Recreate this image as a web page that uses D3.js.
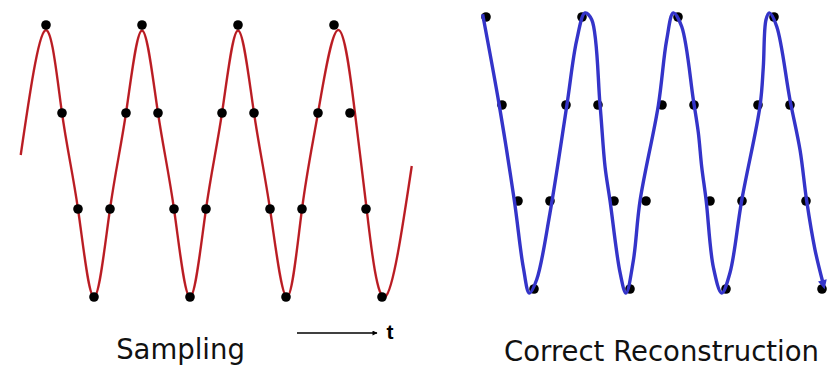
<!DOCTYPE html>
<html>
<head>
<meta charset="utf-8">
<script src="https://cdn.jsdelivr.net/npm/d3@7"></script>
<style>
  body { margin: 0; background: #fff; }
  svg { display: block; }
</style>
</head>
<body>
<svg width="835" height="382"></svg>
<script>
/* Sampling vs. correct reconstruction */

// sample index (one dot every sample)
const sampleIndex = d3.range(22);
const sampleValues = [1, 0.353, -0.353, -1, -0.353, 0.353,
                      1, 0.353, -0.353, -1, -0.353, 0.353,
                      1, 0.353, -0.353, -1, -0.353, 0.353,
                      1, 0.353, -0.353, -1];

// original signal (red), traced points [t, value]
const signalT = [-1.58, -0.06, 1, 2, 3, 4, 5, 6, 7, 8, 9, 10, 11, 12, 13, 14, 15.06, 16, 17, 18.27, 19.31, 20.04, 21.19, 22.86];
const signalV = [0.044, 0.96, 0.353, -0.353, -1.0, -0.353, 0.353, 0.96, 0.353, -0.353, -1.0, -0.353, 0.353, 0.96, 0.353, -0.353, -1.0, -0.353, 0.353, 0.963, 0.353, -0.353, -1.0, -0.037];

// reconstruction (blue), traced points [t, value]
const reconT = [-0.21, 0.83, 1.77, 2.33, 2.71, 3.17, 4.0, 5.04, 5.67, 6.19, 6.61, 7.13, 7.44, 7.75, 8.38, 8.75, 9.21, 9.63, 10.77, 11.29, 11.71, 12.23, 12.96, 13.27, 13.48, 13.76, 14.21, 14.73, 15.25, 15.98, 17.13, 17.33, 17.5, 17.71, 18.17, 19.0, 19.63, 20.04, 20.56, 21.05];
const reconV = [1.02, 0.35, -0.35, -0.84, -1.03, -0.93, -0.44, 0.34, 0.83, 1.03, 0.98, 0.35, -0.10, -0.35, -0.88, -1.03, -0.79, -0.35, 0.35, 0.83, 1.03, 0.93, 0.39, 0.15, -0.10, -0.35, -0.84, -1.03, -0.88, -0.35, 0.35, 0.63, 0.98, 1.03, 0.93, 0.39, 0.02, -0.35, -0.71, -0.95];

const titles = ['Sampling', 'Correct Reconstruction'];

const svg = d3.select('svg');

const defs = svg.append('defs');
defs.append('marker')
    .attr('id', 'blueHead')
    .attr('viewBox', '0 0 10 10')
    .attr('refX', 2).attr('refY', 5)
    .attr('markerWidth', 10).attr('markerHeight', 9)
    .attr('markerUnits', 'userSpaceOnUse')
    .attr('orient', 'auto')
  .append('path')
    .attr('d', 'M0,0 L10,5 L0,10 z')
    .attr('fill', '#3434c9');
defs.append('marker')
    .attr('id', 'blackHead')
    .attr('viewBox', '0 0 10 10')
    .attr('refX', 9).attr('refY', 5)
    .attr('markerWidth', 7).attr('markerHeight', 5)
    .attr('markerUnits', 'userSpaceOnUse')
    .attr('orient', 'auto')
  .append('path')
    .attr('d', 'M0,0 L10,5 L0,10 z')
    .attr('fill', '#000');

/* left panel */
const xL = d3.scaleLinear().domain([0, 21]).range([46, 382]);
const yL = d3.scaleLinear().domain([-1, 1]).range([297, 25]);

const signalLine = d3.line().x(d => xL(d[0])).y(d => yL(d[1])).curve(d3.curveNatural);
const signal = signalT.map((t, i) => [t, signalV[i]]);
svg.append('path')
    .datum(signal)
    .attr('fill', 'none')
    .attr('stroke', '#cc2229')
    .attr('stroke-width', 2.4)
    .attr('d', signalLine);
svg.append('path')
    .datum(signal)
    .attr('fill', 'none')
    .attr('stroke', '#7a1a1e')
    .attr('stroke-width', 0.8)
    .attr('opacity', 0.55)
    .attr('d', signalLine);

svg.append('g').selectAll('circle')
    .data(sampleIndex)
    .join('circle')
    .attr('cx', d => xL(d))
    .attr('cy', d => yL(sampleValues[d]))
    .attr('r', 4.8)
    .attr('fill', '#000');

/* right panel */
const xR = d3.scaleLinear().domain([0, 21]).range([486, 822]);
const yR = d3.scaleLinear().domain([-1, 1]).range([289, 17]);

svg.append('g').selectAll('circle')
    .data(sampleIndex)
    .join('circle')
    .attr('cx', d => xR(d))
    .attr('cy', d => yR(sampleValues[d]))
    .attr('r', 4.8)
    .attr('fill', '#000');

// blue curve sits on top of the dots
const recon = reconT.map((t, i) => [t, reconV[i]]);
svg.append('path')
    .datum(recon)
    .attr('fill', 'none')
    .attr('stroke', '#3434c9')
    .attr('stroke-width', 3.4)
    .attr('marker-end', 'url(#blueHead)')
    .attr('d', d3.line().x(d => xR(d[0])).y(d => yR(d[1])).curve(d3.curveCatmullRom.alpha(0.5)));

/* time arrow */
svg.append('line')
    .attr('x1', 297).attr('x2', 377)
    .attr('y1', 333).attr('y2', 333)
    .attr('stroke', '#000')
    .attr('stroke-width', 1.3)
    .attr('marker-end', 'url(#blackHead)');
svg.append('text')
    .attr('x', 386.5).attr('y', 338.5)
    .attr('font-family', 'Liberation Sans, Arial, sans-serif')
    .attr('font-weight', 'bold')
    .attr('font-size', 21)
    .text('t');

/* captions */
svg.selectAll('text.title')
    .data(titles)
    .join('text')
    .attr('class', 'title')
    .attr('x', (d, i) => i === 0 ? 180.5 : 661.5)
    .attr('y', (d, i) => i === 0 ? 359 : 361)
    .attr('text-anchor', 'middle')
    .attr('font-family', 'Tahoma, DejaVu Sans, sans-serif')
    .attr('font-size', 27.5)
    .attr('fill', '#111')
    .text(d => d);
</script>
</body>
</html>
